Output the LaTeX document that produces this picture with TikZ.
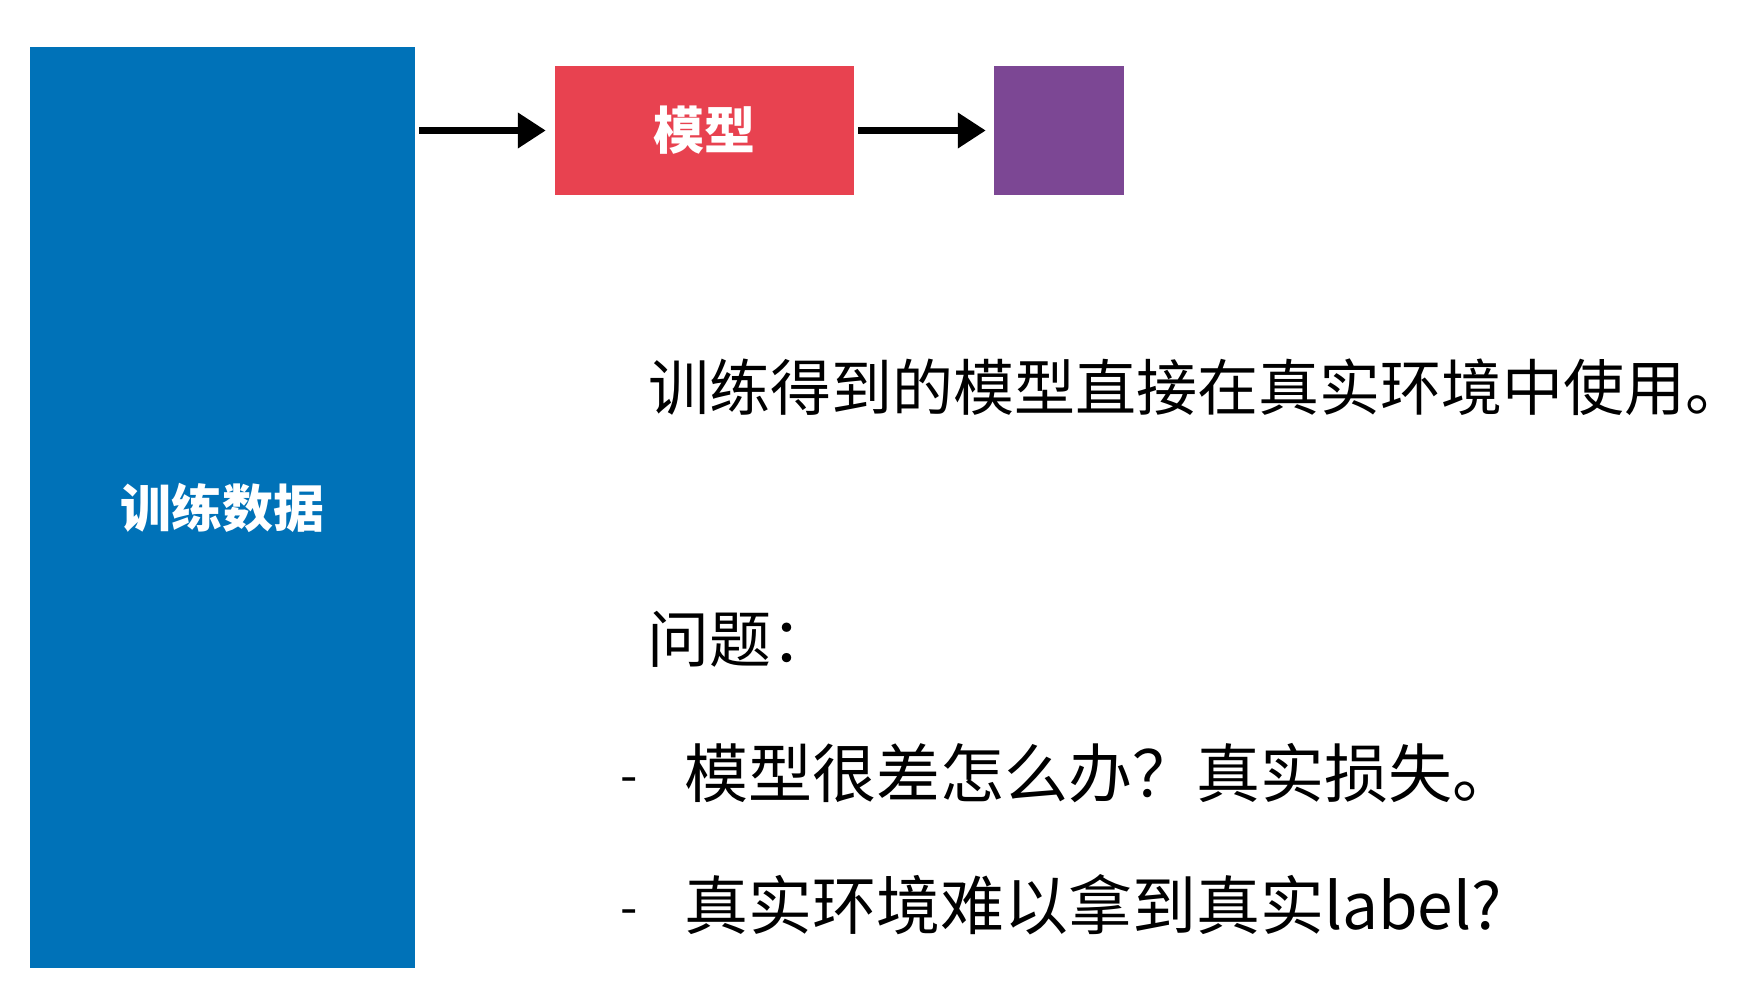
\documentclass[tikz,border=0pt]{standalone}
\usepackage{fontspec}
\setmainfont{Noto Sans CJK SC}
\usetikzlibrary{arrows.meta,positioning}
\definecolor{databl}{RGB}{0,114,184}
\definecolor{modelred}{RGB}{232,66,80}
\definecolor{outpurple}{RGB}{124,71,148}
\begin{document}
\begin{tikzpicture}[x=1pt, y=-1pt,
    box/.style={inner sep=0pt, text=white, font=\bfseries\fontsize{51}{51}\selectfont},
    flow/.style={line width=7pt, -{Triangle[length=28pt,width=34pt]}},
    say/.style={anchor=west, inner sep=0pt, font=\fontsize{62}{62}\selectfont}]
    \useasboundingbox (0,0) rectangle (1757,982);
    % training data, model and output
    \node[box, fill=databl, minimum width=385pt, minimum height=921pt] (train) at (222.5,507.5) {训练数据};
    \node[box, fill=modelred, minimum width=299pt, minimum height=129pt] (model) at (704.5,130.5) {模型};
    \node[box, fill=outpurple, minimum width=130pt, minimum height=129pt] (output) at (1059,130.5) {};

    \draw[flow, shorten <=4pt, shorten >=9pt] (train.east |- model.west) -- (model.west);
    \draw[flow, shorten <=4pt, shorten >=8pt] (model.east) -- (output.west);

    % notes
    \node[say, font=\fontsize{61}{61}\selectfont] (use) at (648,387) {训练得到的模型直接在真实环境中使用。};
    \node[say] (issue) at (647,639) {问题：};
    \node[say, anchor=center, font=\fontsize{50}{50}\selectfont] (dashA) at (629,786) {-};
    \node[say, font=\fontsize{64}{64}\selectfont] (issueA) at (684,773) {模型很差怎么办？真实损失。};
    \node[say, anchor=center, font=\fontsize{50}{50}\selectfont] (dashB) at (629,918) {-};
    \node[say, font=\fontsize{64}{64}\selectfont] (issueB) at (684,905) {真实环境难以拿到真实label?};
\end{tikzpicture}
\end{document}
